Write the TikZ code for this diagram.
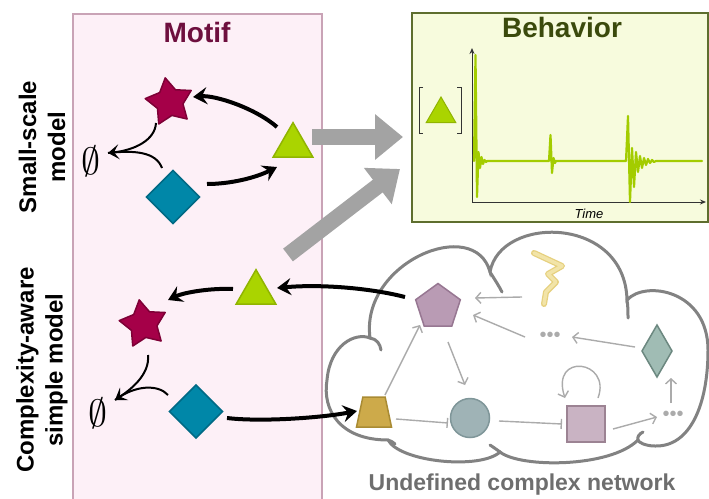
\documentclass[tikz,border=0pt]{standalone}
\usepackage{fontspec}
\setmainfont{Liberation Sans}
\usepackage{tikz}
\usetikzlibrary{positioning,calc,arrows.meta,shapes.geometric}
\definecolor{MotifFill}{HTML}{FDF0F7}
\definecolor{MotifLine}{HTML}{C9A3B6}
\definecolor{MotifText}{HTML}{6E0F3E}
\definecolor{BehFill}{HTML}{F7FBDD}
\definecolor{BehLine}{HTML}{5E6E2E}
\definecolor{BehText}{HTML}{3B4A0C}
\definecolor{StarRed}{HTML}{A50048}
\definecolor{StarEdge}{HTML}{7E0036}
\definecolor{DiamBlue}{HTML}{0087A8}
\definecolor{DiamEdge}{HTML}{006A85}
\definecolor{TriGreen}{HTML}{AAD400}
\definecolor{TriEdge}{HTML}{90B400}
\definecolor{SigGreen}{HTML}{A3CC00}
\definecolor{ArrowGray}{HTML}{A3A3A3}
\definecolor{CloudGray}{HTML}{828282}
\definecolor{NetGray}{HTML}{ABABAB}
\definecolor{NetText}{HTML}{6E6E6E}
\definecolor{PentFill}{HTML}{B99BB4}
\definecolor{PentEdge}{HTML}{977792}
\definecolor{RDiamFill}{HTML}{A0BCB4}
\definecolor{RDiamEdge}{HTML}{6C8880}
\definecolor{TrapFill}{HTML}{CDAA4A}
\definecolor{TrapEdge}{HTML}{A98B33}
\definecolor{CircFill}{HTML}{9FB3B6}
\definecolor{CircEdge}{HTML}{7F9699}
\definecolor{SqFill}{HTML}{C9B3C3}
\definecolor{SqEdge}{HTML}{9C8393}
\definecolor{ZigFill}{HTML}{F2E4A8}
\definecolor{ZigEdge}{HTML}{E6D07E}

\begin{document}
\begin{tikzpicture}[x=1pt, y=-1pt,
  every node/.style={inner sep=0pt, outer sep=0pt},
  motifbox/.style={draw=MotifLine, fill=MotifFill, line width=1.2pt,
                   minimum width=249pt, minimum height=506pt},
  behbox/.style  ={draw=BehLine, fill=BehFill, line width=1.6pt,
                   minimum width=296pt, minimum height=209pt},
  boxtitle/.style={font=\fontsize{28}{30}\selectfont\bfseries, anchor=base},
  sidelabel/.style={rotate=90, align=center, font=\fontsize{24}{29}\selectfont\bfseries},
  starnode/.style={star, star points=5, star point ratio=1.8, minimum size=49pt,
                   fill=StarRed, draw=StarEdge, line width=1.5pt, line join=round, rotate=10},
  diamnode/.style={diamond, minimum width=53pt, minimum height=53pt,
                   fill=DiamBlue, draw=DiamEdge, line width=1.5pt},
  trinode/.style ={regular polygon, regular polygon sides=3, minimum size=46pt,
                   fill=TriGreen, draw=TriEdge, line width=1.5pt},
  nullnode/.style={},
  react/.style   ={draw=black, line width=4pt, -{Stealth[length=14pt,width=17pt,inset=5pt]}},
  decay/.style   ={draw=black, line width=2pt},
  bigarrow/.style={draw=ArrowGray, line width=16pt, -{Triangle[length=28pt,width=44pt]}},
  axis/.style    ={draw=black!80, line width=1pt, -{Stealth[length=6pt,width=5pt]}},
  signal/.style  ={draw=SigGreen, line width=2.2pt, line join=round, line cap=round},
  cloud/.style   ={draw=CloudGray, line width=3pt, line cap=round},
  netnode/.style ={line width=1.5pt},
  netedge/.style ={draw=NetGray, line width=1.4pt, -{Straight Barb[length=5pt,width=11pt]}},
  netinh/.style  ={draw=NetGray, line width=1.4pt, -{Bar[width=10pt]}},
  dotsnode/.style={font=\fontsize{20}{20}\selectfont, text=NetGray}]

\useasboundingbox (0,0) rectangle (709,498);
\clip (0,0) rectangle (709,498);

% boxes
\node[motifbox] (motif) at (197.5,267) {};
\node[boxtitle, text=MotifText] (motiftitle) at (197,42) {Motif};
\node[behbox] (beh) at (560,117.5) {};
\node[boxtitle, text=BehText] (behtitle) at (562,37) {Behavior};

% side labels
\node[sidelabel] (smalllbl) at (42,147) {Small-scale\\model};
\node[sidelabel] (complbl)  at (42,370) {Complexity-aware\\simple model};

% small-scale motif
\node[starnode] (starA) at (169.5,102) {};
\node[diamnode] (diamA) at (173,197) {};
\node[trinode]  (triA)  at (293,145.7) {};
\node[nullnode] (nullA) at (91,161) {\scalebox{3.8}{$\emptyset$}};

% complexity-aware motif
\node[starnode] (starB) at (143.5,324) {};
\node[diamnode] (diamB) at (196,411.5) {};
\node[trinode]  (triB)  at (256,292.7) {};
\node[nullnode] (nullB) at (98,413) {\scalebox{3.8}{$\emptyset$}};

% gray arrows to behavior
\draw[bigarrow] ($(triA)+(19,-8.7)$) -- ($(beh.west)+(-9,19.5)$);
\draw[bigarrow] ($(triB)+(32,-37.7)$) -- ($(beh.south west)+(-12,-53)$);

% behavior plot
\coordinate (orig) at (472,202);
\draw[axis] (orig) -- ++(0,-154);
\draw[axis] (orig) -- ++(234,0);
\node[font=\fontsize{13}{13}\selectfont\itshape, anchor=base] (timelbl) at (589,218) {Time};
\node[regular polygon, regular polygon sides=3, minimum size=34pt,
      fill=TriGreen, draw=TriEdge, line width=1pt] (triC) at (441,114) {};
\draw[black!80, line width=1pt] ($(triC)+(-18,-27)$) -| ($(triC)+(-22,19)$) -- ++(4,0);
\draw[black!80, line width=1pt] ($(triC)+(16,-27)$) -| ($(triC)+(20,19)$) -- ++(-4,0);
\draw[signal] (474,161) -- (475.5,55) -- (477,197) -- (478.5,152) -- (480,168) -- (481.5,157)
  -- (483,164) -- (484.5,160) -- (486,162) -- (487,161) -- (549,161) -- (550.5,135)
  -- (552,173) -- (553.5,158) -- (555,163) -- (556,161) -- (626,161) -- (628,116)
  -- (630,202) -- (632,148) -- (634,187) -- (636,152) -- (638,172) -- (640,156)
  -- (642,168) -- (644,158) -- (646,165) -- (648,159) -- (650,163) -- (652,160)
  -- (654,162) -- (656,161) -- (702,161);

% undefined network cloud
\draw[cloud, fill=white] (388,440) .. controls (340,440) and (322,410) .. (327,380)
  .. controls (330,345) and (355,332) .. (370,338)
  .. controls (360,262) and (475,215) .. (490,272)
  .. controls (500,215) and (625,215) .. (627,300)
  .. controls (645,280) and (708,290) .. (708,350)
  .. controls (708,405) and (690,447) .. (655,446)
  .. controls (645,446) and (638,442) .. (638,440)
  .. controls (610,468) and (520,468) .. (500,452)
  .. controls (480,470) and (400,462) .. (388,440) -- cycle;
\draw[cloud] (370,338) .. controls (377,339) and (380,344) .. (381,350);
\draw[cloud] (490,272) .. controls (495,280) and (499,286) .. (502,292);
\draw[cloud] (627,300) .. controls (628,306) and (628,312) .. (628,318);
\draw[cloud] (638,440) .. controls (637,437) and (639,434) .. (643,432);
\draw[cloud] (500,452) .. controls (496,449) and (493,447) .. (490,445);
\draw[cloud] (388,440) .. controls (391,441) and (393,442) .. (395,444);
\node[font=\fontsize{23}{23}\selectfont\bfseries, text=NetText, anchor=base] (netlbl)
  at (522,490) {Undefined complex network};

% network nodes
\node[regular polygon, regular polygon sides=5, minimum size=47pt, netnode,
      fill=PentFill, draw=PentEdge] (pent) at (438,307) {};
\coordinate (zig) at (550,278);
\draw[ZigEdge, line width=6pt, line join=round, line cap=round]
  ($(zig)+(-16,-25)$) -- ++(28,13) -- ++(-14,8) -- ++(8,8) -- ++(-10,10) -- ++(-2,12);
\draw[ZigFill, line width=3.5pt, line join=round, line cap=round]
  ($(zig)+(-16,-25)$) -- ++(28,13) -- ++(-14,8) -- ++(8,8) -- ++(-10,10) -- ++(-2,12);
\node[dotsnode] (dotsA) at (550,337) {\textbullet\textbullet\textbullet};
\node[diamond, minimum width=30pt, minimum height=52pt, netnode,
      fill=RDiamFill, draw=RDiamEdge] (rdiam) at (657,351) {};
\node[trapezium, trapezium angle=74, trapezium stretches=true, inner sep=1pt,
      minimum width=35pt, minimum height=30pt, netnode,
      fill=TrapFill, draw=TrapEdge] (trap) at (374,412) {};
\node[circle, minimum size=39pt, netnode, fill=CircFill, draw=CircEdge] (circ) at (470,418) {};
\node[rectangle, minimum width=38pt, minimum height=36pt, netnode,
      fill=SqFill, draw=SqEdge] (sq) at (586,424) {};
\node[dotsnode] (dotsB) at (673,416) {\textbullet\textbullet\textbullet};

% network edges
\draw[netedge] ($(zig)+(-28,19)$) -- ($(pent)+(37,-9)$);
\draw[netedge] ($(dotsA)+(-25,0)$) -- ($(pent)+(35,8)$);
\draw[netedge] ($(rdiam)+(-22,-4)$) -- ($(dotsA)+(22,0)$);
\draw[netedge] ($(pent)+(10,35)$) -- ($(circ)+(-5,-33)$);
\draw[netedge] ($(trap)+(11,-17)$) -- ($(pent)+(-18,18)$);
\draw[netinh]  ($(trap)+(22,7)$) -- ($(circ)+(-22,5)$);
\draw[netinh]  ($(circ)+(29,3)$) -- ($(sq)+(-24,0)$);
\draw[netedge] ($(sq)+(27,5)$) -- ($(dotsB)+(-16,1)$);
\draw[netedge] ($(dotsB)+(-2,-13)$) -- ($(rdiam)+(14,27)$);
\draw[netedge] ($(sq)+(12,-26)$) .. controls (612,360) and (550,352) .. ($(sq)+(-21,-26)$);

% motif reactions
\draw[react] ($(triA)+(-16,-18.7)$) .. controls (255,108) and (215,95) .. ($(starA)+(23.5,-5)$);
\draw[react] ($(diamA)+(34,-13)$) .. controls (230,184) and (255,178) .. ($(triA)+(-16,21.3)$);
\draw[decay] ($(diamA)+(-11,-29)$) .. controls (156,152) and (135,150) .. ($(nullA)+(17,-8)$);
\draw[decay, -{Stealth[length=11pt,width=15pt,inset=5pt]}]
  ($(starA)+(-13.5,21)$) .. controls (155,140) and (135,150) .. ($(nullA)+(17,-8)$);

\draw[react] ($(triB)+(-23,-3.7)$) .. controls (212,288) and (185,292) .. ($(starB)+(24.5,-24)$);
\draw[decay] ($(diamB)+(-28,-16.5)$) .. controls (158,384) and (135,385) .. ($(nullB)+(17,-13)$);
\draw[decay, -{Stealth[length=11pt,width=15pt,inset=5pt]}]
  ($(starB)+(4.5,31)$) .. controls (150,375) and (130,390) .. ($(nullB)+(17,-13)$);
\draw[react] ($(diamB)+(31,6.5)$) .. controls (260,422) and (320,418) .. ($(trap)+(-17,-1)$);
\draw[react] ($(pent)+(-33,-10)$) .. controls (370,288) and (320,284) .. ($(triB)+(21,-4.7)$);
\end{tikzpicture}
\end{document}
